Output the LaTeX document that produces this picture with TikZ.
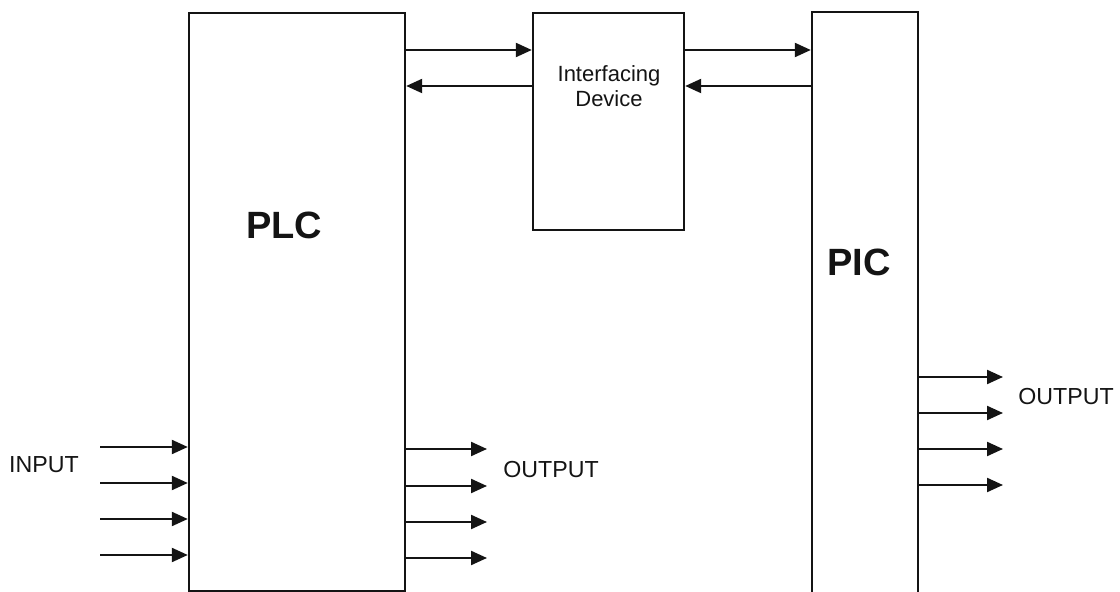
\documentclass[tikz,border=0pt]{standalone}
\usepackage{fontspec}
\setmainfont{Liberation Sans}
\usepackage{xcolor}
\usepackage{tikz}
\usetikzlibrary{arrows.meta,calc,positioning}
\definecolor{PlcInk}{HTML}{141414}
\tikzset{
  >=Latex,
  unitbox/.style={draw=PlcInk,line width=1.2pt,fill=white,inner sep=0pt},
  sig/.style={-{Triangle[length=8pt,width=7pt]},line width=1.1pt,draw=PlcInk},
  bigname/.style={font=\fontsize{19}{22}\selectfont\bfseries,text=PlcInk,inner sep=0pt},
  smallname/.style={font=\fontsize{11}{12.5}\selectfont,text=PlcInk,align=center,inner sep=0pt},
  portname/.style={font=\fontsize{11.6}{14}\selectfont,text=PlcInk,inner sep=0pt}
}

\begin{document}
\begin{tikzpicture}[x=0.5pt,y=-0.5pt]
  \useasboundingbox[fill=white] (0,0) rectangle (1120,592);

  % blocks
  \node[unitbox,minimum width=108pt,minimum height=289pt] (plc) at (297,302) {};
  \node[unitbox,minimum width=75.5pt,minimum height=108.5pt] (iface) at (608.5,121.5) {};
  \node[unitbox,minimum width=53pt,minimum height=296pt] (pic) at (865,308) {};

  \node[bigname] (plcname) at (284,225) {PLC};
  \node[bigname] (picname) at (859,262) {PIC};
  \node[smallname] (ifacename) at (609,86) {Interfacing\\Device};

  % links between the blocks
  \draw[sig] (plc.east |- 0,50) -- (iface.west |- 0,50);
  \draw[sig] (iface.west |- 0,86) -- (plc.east |- 0,86);
  \draw[sig] (iface.east |- 0,50) -- (pic.west |- 0,50);
  \draw[sig] (pic.west |- 0,86) -- (iface.east |- 0,86);

  % plc inputs and outputs
  \foreach \y [count=\i] in {447,483,519,555}{
    \coordinate (in\i) at (100,\y);
    \draw[sig] (in\i) -- (plc.west |- in\i);
  }
  \foreach \y [count=\i] in {449,486,522,558}{
    \coordinate (plcout\i) at (487,\y);
    \draw[sig] (plc.east |- plcout\i) -- (plcout\i);
  }
  \node[portname] (inname) at (44,465) {INPUT};
  \node[portname,anchor=west] (plcoutname) at (503,470) {OUTPUT};

  % pic outputs
  \foreach \y [count=\i] in {377,413,449,485}{
    \coordinate (picout\i) at (1003,\y);
    \draw[sig] (pic.east |- picout\i) -- (picout\i);
  }
  \node[portname,anchor=west] (picoutname) at (1018,397) {OUTPUT};

\end{tikzpicture}
\end{document}
